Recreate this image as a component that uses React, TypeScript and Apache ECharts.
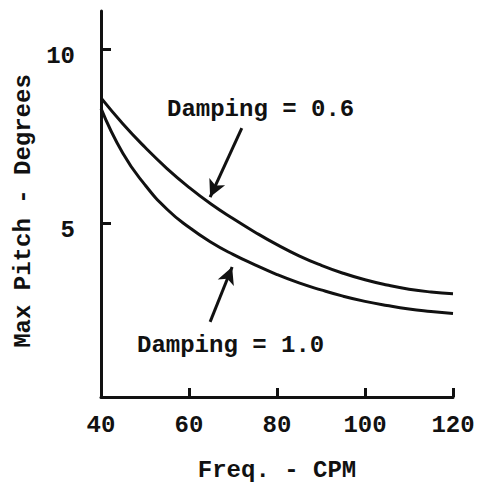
import React, { useEffect, useRef } from "react";
import * as echarts from "echarts";

const freq = [40, 45, 50, 55, 60, 65, 70, 75, 80, 85, 90, 95, 100, 105, 110, 115, 120];
const damping06 = [8.6, 7.85, 7.18, 6.57, 6.03, 5.55, 5.13, 4.74, 4.38, 4.06, 3.79, 3.56, 3.37, 3.22, 3.1, 3.02, 2.97];
const damping10 = [8.3, 7.0, 6.1, 5.4, 4.88, 4.45, 4.1, 3.8, 3.52, 3.28, 3.08, 2.9, 2.75, 2.63, 2.53, 2.46, 2.4];
const yTickValues = [5, 10];
const xTitle = "Freq. - CPM";
const yTitle = "Max Pitch - Degrees";
const label06 = "Damping = 0.6";
const label10 = "Damping = 1.0";
// arrow annotations in data coordinates: [from, to]
const arrow06 = [[72, 7.73], [64.8, 5.75]];
const arrow10 = [[64.8, 2.16], [69.8, 3.74]];

const FONT = "Liberation Mono";
const INK = "#111";

export default function App() {
  const ref = useRef<HTMLDivElement>(null);
  useEffect(() => {
    if (!ref.current) return;
    const chart = echarts.init(ref.current, null, { renderer: "svg" });
    const textStyle = { fontFamily: FONT, fontSize: 24, fontWeight: "bold" as const, color: INK };
    chart.setOption({
      animation: false,
      backgroundColor: "#fff",
      grid: { left: 101, right: 25, top: 11, bottom: 89 },
      xAxis: {
        type: "value",
        min: 40,
        max: 120,
        interval: 20,
        name: xTitle,
        nameLocation: "middle",
        nameGap: 61,
        nameTextStyle: textStyle,
        axisLine: { lineStyle: { color: INK, width: 3 } },
        axisTick: { inside: true, length: 9, lineStyle: { color: INK, width: 3 } },
        axisLabel: { ...textStyle, margin: 16 },
        splitLine: { show: false },
      },
      yAxis: {
        type: "value",
        min: 0,
        max: 11.1,
        name: yTitle,
        nameLocation: "middle",
        nameGap: 64,
        nameTextStyle: { ...textStyle, padding: [0, 14, 0, 0] },
        axisLine: { show: true, lineStyle: { color: INK, width: 3 } },
        axisTick: { show: true, inside: true, length: 10, customValues: yTickValues, lineStyle: { color: INK, width: 3 } },
        axisLabel: { ...textStyle, margin: 26, customValues: yTickValues, verticalAlign: "top", lineHeight: 14 },
        splitLine: { show: false },
      },
      series: [
        {
          type: "line",
          name: label06,
          data: freq.map((f, i) => [f, damping06[i]]),
          smooth: true,
          showSymbol: false,
          lineStyle: { color: INK, width: 3 },
          silent: true,
          markLine: {
            silent: true,
            symbol: ["none", "arrow"],
            symbolSize: [13, 17],
            label: { show: false },
            lineStyle: { color: INK, width: 3, type: "solid" },
            data: [
              [{ coord: arrow06[0] }, { coord: arrow06[1] }],
              [{ coord: arrow10[0] }, { coord: arrow10[1] }],
            ],
          },
        },
        {
          type: "line",
          name: label10,
          data: freq.map((f, i) => [f, damping10[i]]),
          smooth: true,
          showSymbol: false,
          lineStyle: { color: INK, width: 3 },
          silent: true,
        },
      ],
      graphic: [
        { type: "text", left: 167, top: 97, style: { text: label06, font: `bold 24px "${FONT}"`, fill: INK } },
        { type: "text", left: 137, top: 333, style: { text: label10, font: `bold 24px "${FONT}"`, fill: INK } },
      ],
    });
    return () => chart.dispose();
  }, []);
  return <div ref={ref} style={{ position: "fixed", left: 0, top: 0, width: 478, height: 487 }} />;
}
